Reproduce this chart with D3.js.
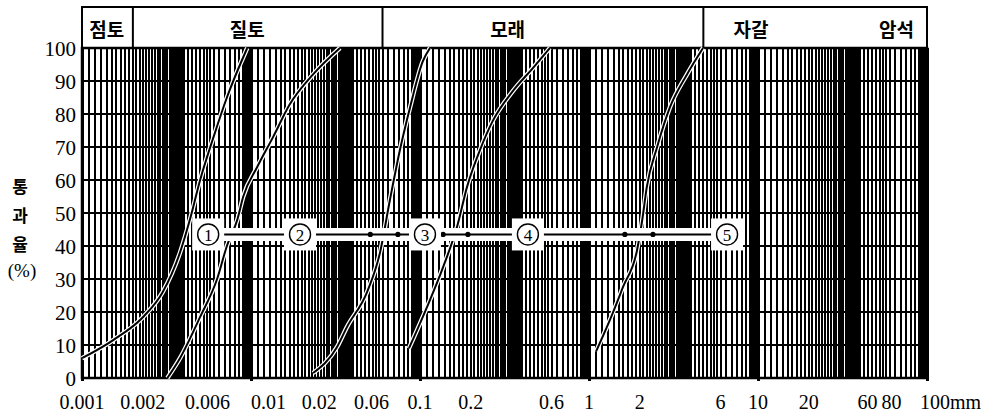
<!DOCTYPE html>
<html>
<head>
  <meta charset="utf-8">
  <script src="https://d3js.org/d3.v7.min.js"></script>
  <style>
    body { margin: 0; background: #fff; }
    svg { display: block; }
    .serif { font-family: "Liberation Serif", "DejaVu Serif", serif; }
    .kor { font-family: "Noto Sans CJK KR", sans-serif; font-weight: 700; }
  </style>
</head>
<body>
  <svg id="canvas" width="989" height="416"></svg>
  <script>
    // soil classes along the top band (boundaries in mm)
    const classNames = ['점토', '질토', '모래', '자갈', '암석'];
    const classLabelAt = [0.0014, 0.0095, 0.33, 9.1, 66];
    const classBounds = [0.002, 0.06, 4.75];

    // tick labels
    const xTicks = [0.001, 0.002, 0.006, 0.01, 0.02, 0.06, 0.1, 0.2, 0.6, 1, 2, 6, 10, 20, 60, 80, 100];
    const xTickText = ['0.001', '0.002', '0.006', '0.01', '0.02', '0.06', '0.1', '0.2', '0.6', '1', '2', '6', '10', '20', '60', '80', '100mm'];
    const yTicks = [0, 10, 20, 30, 40, 50, 60, 70, 80, 90, 100];

    // grading curves: grain size (mm) and percent passing
    const size1 = [0.001, 0.00153, 0.0023, 0.0030, 0.0038, 0.00435, 0.005, 0.006, 0.0072, 0.0095];
    const pass1 = [6, 11.5, 18.5, 26, 38, 48, 60, 73, 85, 100];
    const size2 = [0.0032, 0.0038, 0.0050, 0.0063, 0.0072, 0.0083, 0.0090, 0.0109, 0.0135, 0.017, 0.0233, 0.0336];
    const pass2 = [0, 6, 18.5, 30, 40, 48, 55, 64, 73, 83, 92, 100];
    const size3 = [0.0233, 0.0323, 0.037, 0.0486, 0.058, 0.0664, 0.076, 0.0873, 0.104, 0.1146];
    const pass3 = [1.5, 9.4, 15.5, 26, 38, 54, 69, 82, 96, 100];
    const size4 = [0.086, 0.11, 0.137, 0.166, 0.19, 0.226, 0.27, 0.355, 0.467, 0.587];
    const pass4 = [9, 21.5, 33.6, 46, 58, 69, 78, 87, 94, 100];
    const size5 = [1.1, 1.33, 1.59, 1.92, 2.06, 2.2, 2.53, 3.01, 3.8, 4.73];
    const pass5 = [8, 17.6, 27.6, 38.5, 47.5, 58, 70, 82, 92, 100];

    // curve number markers on the range line
    const markNames = ['1', '2', '3', '4', '5'];
    const markSize = [0.00558, 0.0195, 0.107, 0.435, 6.56];
    const markPass = 43.5;
    const rangeDots = [0.0508, 0.074, 0.137, 0.192, 1.63, 2.39];

    const svg = d3.select('svg#canvas');
    const plotLeft = 82, plotRight = 927, plotTop = 48, plotBottom = 378, bandTop = 7;

    const x = d3.scaleLog().domain([0.001, 100]).range([plotLeft, plotRight]);
    const y = d3.scaleLinear().domain([0, 100]).range([plotBottom, plotTop]);

    // log grid: [from, to, step] inside each decade
    const gridSteps = [[1, 2, 0.1], [2, 4, 0.1], [4, 6, 0.25], [6, 9, 0.5], [9, 10, 0.2]];
    const gridVals = [];
    [0.001, 0.01, 0.1, 1, 10].forEach(dec => {
      gridSteps.forEach(([a, b, s]) => {
        for (let m = a; m < b - 1e-9; m += s) {
          if (m > 1 + 1e-9) gridVals.push(dec * m);
        }
      });
    });
    const decades = [0.001, 0.01, 0.1, 1, 10, 100];

    const grid = svg.append('g').attr('shape-rendering', 'crispEdges');
    grid.selectAll('line.v')
      .data(gridVals)
      .join('line')
      .attr('x1', d => Math.round(x(d))).attr('x2', d => Math.round(x(d)))
      .attr('y1', plotTop).attr('y2', plotBottom)
      .attr('stroke', '#000')
      .attr('stroke-width', 2);

    grid.selectAll('line.d')
      .data(decades)
      .join('line')
      .attr('x1', d => Math.round(x(d)) + 0.5).attr('x2', d => Math.round(x(d)) + 0.5)
      .attr('y1', plotTop).attr('y2', plotBottom + 3)
      .attr('stroke', '#000')
      .attr('stroke-width', 3);

    grid.selectAll('line.h')
      .data(yTicks)
      .join('line')
      .attr('x1', plotLeft).attr('x2', plotRight)
      .attr('y1', d => y(d)).attr('y2', d => y(d))
      .attr('stroke', '#000')
      .attr('stroke-width', 2);

    // top band
    svg.append('rect')
      .attr('x', plotLeft).attr('y', bandTop)
      .attr('width', plotRight - plotLeft).attr('height', plotTop - bandTop)
      .attr('fill', '#fff').attr('stroke', '#000').attr('stroke-width', 2);

    svg.selectAll('line.cb')
      .data(classBounds)
      .join('line')
      .attr('x1', d => x(d)).attr('x2', d => x(d))
      .attr('y1', bandTop).attr('y2', plotTop)
      .attr('stroke', '#000').attr('stroke-width', 2);

    svg.selectAll('text.cls')
      .data(classNames)
      .join('text')
      .attr('class', 'kor')
      .attr('x', (d, i) => x(classLabelAt[i]))
      .attr('y', 28)
      .attr('text-anchor', 'middle')
      .attr('dominant-baseline', 'central')
      .style('font-size', '19px')
      .text(d => d);

    // frame
    svg.append('rect')
      .attr('x', plotLeft).attr('y', plotTop)
      .attr('width', plotRight - plotLeft).attr('height', plotBottom - plotTop)
      .attr('fill', 'none').attr('stroke', '#000').attr('stroke-width', 2.5);

    // grading curves
    const curves = [[size1, pass1], [size2, pass2], [size3, pass3], [size4, pass4], [size5, pass5]];
    const line = d3.line()
      .x(d => x(d[0]))
      .y(d => y(d[1]))
      .curve(d3.curveMonotoneX);
    const curveG = svg.append('g');
    curveG.selectAll('path.halo')
      .data(curves)
      .join('path')
      .attr('class', 'halo')
      .attr('d', c => line(c[0].map((s, i) => [s, c[1][i]])))
      .attr('fill', 'none')
      .attr('stroke', '#fff')
      .attr('stroke-width', 4.5);
    curveG.selectAll('path.curve')
      .data(curves)
      .join('path')
      .attr('class', 'curve')
      .attr('d', c => line(c[0].map((s, i) => [s, c[1][i]])))
      .attr('fill', 'none')
      .attr('stroke', '#000')
      .attr('stroke-width', 2);

    // range line with white halo
    const marks = svg.append('g');
    const x0 = x(markSize[0]), x1 = x(markSize[markSize.length - 1]);
    marks.append('line')
      .attr('x1', x0).attr('x2', x1)
      .attr('y1', y(markPass)).attr('y2', y(markPass))
      .attr('stroke', '#fff').attr('stroke-width', 13);
    marks.append('line')
      .attr('x1', x0).attr('x2', x1)
      .attr('y1', y(markPass)).attr('y2', y(markPass))
      .attr('stroke', '#000').attr('stroke-width', 2);
    marks.selectAll('circle.dot')
      .data(rangeDots)
      .join('circle')
      .attr('cx', d => x(d)).attr('cy', y(markPass))
      .attr('r', 2.6).attr('fill', '#000');

    const badge = marks.selectAll('g.badge')
      .data(markNames)
      .join('g')
      .attr('transform', (d, i) => `translate(${x(markSize[i])},${y(markPass)})`);
    badge.append('rect')
      .attr('x', -16).attr('y', -16)
      .attr('width', 32).attr('height', 32)
      .attr('fill', '#fff');
    badge.append('circle')
      .attr('r', 10.5)
      .attr('fill', '#fff').attr('stroke', '#000').attr('stroke-width', 1.4);
    badge.append('text')
      .attr('class', 'serif')
      .attr('text-anchor', 'middle')
      .attr('dominant-baseline', 'central')
      .attr('y', 1)
      .style('font-size', '17px')
      .text(d => d);

    // y tick labels
    svg.selectAll('text.yt')
      .data(yTicks)
      .join('text')
      .attr('class', 'serif')
      .attr('x', plotLeft - 6)
      .attr('y', d => y(d) + 1)
      .attr('text-anchor', 'end')
      .attr('dominant-baseline', 'central')
      .style('font-size', '21px')
      .text(d => d);

    // x tick labels (a few are shifted so neighbours do not collide)
    const startTicks = [0.01, 0.02, 100];
    const tickShift = { 0.002: 10, 0.006: -6, 0.06: -11, 60: -22, 80: -19, 100: -7 };
    svg.selectAll('text.xt')
      .data(xTicks)
      .join('text')
      .attr('class', 'serif')
      .attr('x', d => x(d))
      .attr('dx', d => tickShift[d] || 0)
      .attr('y', 409)
      .attr('text-anchor', d => startTicks.includes(d) ? 'start' : 'middle')
      .style('font-size', '20px')
      .text((d, i) => xTickText[i]);

    // y axis title
    const yTitle = ['통', '과', '율'];
    svg.selectAll('text.ytl')
      .data(yTitle)
      .join('text')
      .attr('class', 'kor')
      .attr('x', 20)
      .attr('y', (d, i) => 185 + i * 29)
      .attr('text-anchor', 'middle')
      .attr('dominant-baseline', 'central')
      .style('font-size', '17px')
      .text(d => d);
    svg.append('text')
      .attr('class', 'serif')
      .attr('x', 22).attr('y', 270)
      .attr('text-anchor', 'middle')
      .attr('dominant-baseline', 'central')
      .style('font-size', '19px')
      .text('(%)');
  </script>
</body>
</html>
